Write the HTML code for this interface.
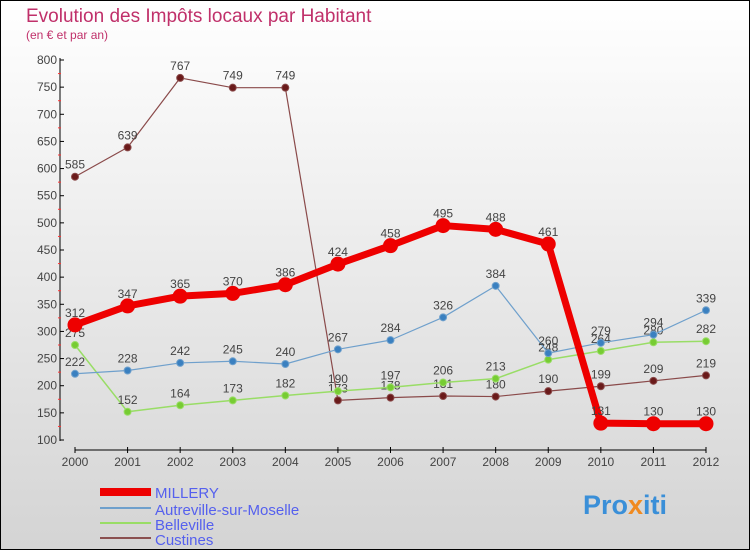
<!DOCTYPE html>
<html><head><meta charset="utf-8"><style>
body{margin:0;width:750px;height:550px;overflow:hidden}
svg{display:block;font-family:"Liberation Sans",sans-serif}
</style></head><body>
<svg id="c" width="750" height="550">
<defs><linearGradient id="bg" x1="0" y1="0" x2="0" y2="1"><stop offset="0" stop-color="#ffffff"/><stop offset="1" stop-color="#d4d4d4"/></linearGradient></defs>
<rect x="0.5" y="0.5" width="749" height="549" fill="url(#bg)" stroke="#000"/>
<text x="26" y="22" font-size="19" fill="#c0306a">Evolution des Impôts locaux par Habitant</text>
<text x="26" y="39" font-size="12" fill="#c0306a">(en € et par an)</text>
<g id="axes"></g><g id="series"></g>
<g>
<rect x="100" y="488" width="51" height="8" fill="#e00"/>
<text x="155" y="498" font-size="15" fill="#5560ee">MILLERY</text>
<rect x="100" y="507" width="51" height="2" fill="#6fa0cc"/>
<text x="155" y="515" font-size="15" fill="#5560ee">Autreville-sur-Moselle</text>
<rect x="100" y="522" width="51" height="2" fill="#99dd66"/>
<text x="155" y="530" font-size="15" fill="#5560ee">Belleville</text>
<rect x="100" y="537" width="51" height="2" fill="#8a5050"/>
<text x="155" y="545" font-size="15" fill="#5560ee">Custines</text>
</g>
<text x="583" y="514" font-size="27" font-weight="bold"><tspan fill="#3a8fd8">Pro</tspan><tspan fill="#f08a20">x</tspan><tspan fill="#3a8fd8">iti</tspan></text>
</svg>
<script>
const years=[2000,2001,2002,2003,2004,2005,2006,2007,2008,2009,2010,2011,2012];
const yTicks=[100,150,200,250,300,350,400,450,500,550,600,650,700,750,800];
const millery=[312,347,365,370,386,424,458,495,488,461,131,130,130];
const autreville=[222,228,242,245,240,267,284,326,384,260,279,294,339];
const belleville=[275,152,164,173,182,190,197,206,213,248,264,280,282];
const custines=[585,639,767,749,749,173,178,181,180,190,199,209,219];
const NS="http://www.w3.org/2000/svg";
const x=i=>75+i*(706-75)/(years.length-1);
const y=v=>440-(v-100)*380/700;
function mk(t,a,p){const e=document.createElementNS(NS,t);for(const k in a)e.setAttribute(k,a[k]);p.appendChild(e);return e;}
const ax=document.getElementById('axes');
let e=mk('line',{x1:60,y1:58,x2:60,y2:441,stroke:'#000','stroke-width':1},ax);


e=mk('line',{x1:75,y1:450,x2:706,y2:450,stroke:'#000','stroke-width':1},ax);


yTicks.forEach((v,i)=>{
  mk('line',{x1:60,y1:y(v),x2:64,y2:y(v),stroke:'#000'},ax);
  if(i<yTicks.length-1)mk('line',{x1:58,y1:y(v+25),x2:61,y2:y(v+25),stroke:'#f33'},ax);
  const t=mk('text',{x:57,y:y(v)+4,'font-size':12,'text-anchor':'end',fill:'#444'},ax);
  t.textContent=v;
  
  
});
years.forEach((yr,i)=>{
  mk('line',{x1:x(i),y1:447,x2:x(i),y2:453,stroke:'#000'},ax);
  const t=mk('text',{x:x(i),y:466,'font-size':12,'text-anchor':'middle',fill:'#444'},ax);
  t.textContent=yr;
  
  
});
const sg=document.getElementById('series');
function series(data,name,lc,pc,lw,r){
  const g=mk('g',{},sg);
  
  
  const p=mk('polyline',{points:data.map((v,i)=>x(i)+','+y(v)).join(' '),fill:'none',stroke:lc,'stroke-width':lw,'stroke-linejoin':'round'},g);
  
  
  data.forEach((v,i)=>{
    const c=mk('circle',{cx:x(i),cy:y(v),r:r,fill:pc,stroke:lc,'stroke-width':1},g);
    
    
    const t=mk('text',{x:x(i),y:y(v)-8,'font-size':12,'text-anchor':'middle',fill:'#444'},g);
    t.textContent=v;
    
    
  });
}
series(custines,'custines','#8a4a4a','#6a1a1a',1.2,3.5);
series(belleville,'belleville','#99dd66','#77cc33',1.5,3.5);
series(autreville,'autreville','#6fa0cc','#3a80c0',1.2,3.5);
series(millery,'millery','#ee0000','#ee0000',7,7);
</script>
</body></html>
